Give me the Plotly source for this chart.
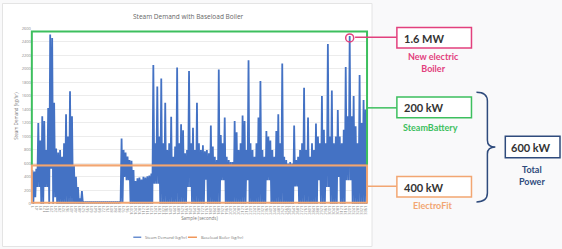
import plotly.graph_objects as go

# ---------------- data ----------------
# upper / lower envelope of the dense steam-demand trace, one pair per ~2 px column
steam_hi = [500, 480, 520, 1200, 940, 1300, 1230, 800, 1420, 2510, 2460, 1500, 820, 760, 800, 700,
            900, 1330, 1000, 1670, 1300, 560, 400, 250, 80,
            190,
            25, 25, 25, 25, 25, 25, 25, 25, 25, 25, 25, 25, 25, 25, 25, 25, 25, 25, 25,
            970, 800, 760, 700, 650, 640, 500, 340,
            380, 390, 360, 400, 390, 410, 420, 450,
            2060, 900, 1740, 1000, 1860, 900, 1500, 800, 900, 1290, 700, 850, 2020, 900, 1180, 1090,
            750, 800, 1970, 900, 1130, 800, 1500, 900,
            800, 870, 780, 800, 750, 1160, 850, 700, 650, 1990, 1020, 900, 1280, 700, 650,
            620, 620, 1230, 1060, 800, 900, 1310, 1230, 800, 2130, 900, 800, 700, 900, 1280,
            1820, 800, 700, 1080, 1000, 940, 800, 700, 1080, 1330, 900, 2080, 700, 650, 600,
            620, 600, 1160, 650, 700, 800, 900, 1720, 800, 1280, 700, 900, 800, 1190, 1000,
            900, 1600, 1100, 900, 2370, 1000, 1680, 900, 1000, 1390, 1000, 900, 1100, 2030, 1300,
            2490, 1300, 1600, 1150, 900, 1910, 1200, 1540, 1400]
steam_lo = [0, 100, 250, 250, 0, 0, 250, 250, 0, 520, 0, 100, 0, 0, 0, 0,
            0, 0, 0, 0, 0, 0, 0, 0, 0,
            0,
            15, 15, 15, 15, 15, 15, 15, 15, 15, 15, 15, 15, 15, 15, 15, 15, 15, 15, 15,
            20, 400, 350, 350, 0, 0, 0, 0,
            0, 0, 0, 0, 0, 0, 0, 0,
            300, 300, 300, 0, 0, 0, 0, 0, 0, 0, 0, 0, 0, 0, 0, 0,
            0, 250, 250, 0, 0, 0, 0, 0,
            0, 0, 360, 0, 0, 0, 0, 0, 0, 0, 350, 350, 0, 0, 0,
            0, 0, 0, 0, 0, 0, 0, 0, 350, 0, 0, 0, 0, 0, 0,
            0, 0, 0, 350, 350, 0, 0, 0, 0, 0, 0, 0, 0, 0, 0,
            0, 0, 260, 260, 0, 0, 0, 0, 0, 0, 0, 0, 0, 0, 350,
            0, 0, 0, 250, 250, 0, 0, 0, 0, 400, 0, 0, 0, 350, 350,
            350, 0, 0, 0, 0, 0, 0, 0, 0]
baseload_kg_hr = 570

steam_demand = [v for pair in zip(steam_hi, steam_lo) for v in pair]
n = len(steam_demand)
sample_seconds = [1 + 10 * i for i in range(n)]
baseload = [baseload_kg_hr] * n

y_ticks = [0, 200, 400, 600, 800, 1000, 1200, 1400, 1600, 1800, 2000, 2200, 2400, 2600]

callouts = ["1.6 MW", "200 kW", "400 kW", "600 kW"]
callout_names = ["New electric<br>Boiler", "SteamBattery", "ElectroFit", "Total<br>Power"]

# ---------------- styling helpers ----------------
W, H = 562, 249
def X(x):
    return x / W
def Y(y):
    return 1 - y / H

BLUE = "#4472c4"
ORANGE_LINE = "#ed7d31"
ORANGE_BOX = "#f2a672"
GREEN = "#3dbf5e"
PINK = "#e2407d"
NAVY = "#2f4b7c"
DARK = "#333333"
FONT = "Lato"

fig = go.Figure()
fig.add_trace(go.Scatter(x=sample_seconds, y=steam_demand, mode="lines",
                         line=dict(color=BLUE, width=1.8, simplify=False), name="Steam Demand (kg/hr)",
                         showlegend=False, hoverinfo="skip"))
fig.add_trace(go.Scatter(x=sample_seconds, y=baseload, mode="lines",
                         line=dict(color=ORANGE_LINE, width=1.2), name="Baseload Boiler (kg/hr)",
                         showlegend=False, hoverinfo="skip"))

def P(x, y):
    return f"{X(x):.5f},{Y(y):.5f}"

shapes = []
# chart area frame
shapes.append(dict(type="rect", xref="paper", yref="paper", x0=X(0.5), x1=X(372), y0=Y(248.5), y1=Y(0.5),
                   line=dict(color="#e4e4e4", width=1), fillcolor="white", layer="below"))
# green open box (sides + top) above the baseload line
shapes.append(dict(type="path", xref="paper", yref="paper",
                   path=f"M {P(30,165.5)} L {P(30,29)} L {P(367,29)} L {P(367,165.5)}",
                   line=dict(color=GREEN, width=2)))
# orange box around the baseload band
shapes.append(dict(type="rect", xref="x domain", yref="y", x0=0, x1=1, y0=15, y1=baseload_kg_hr,
                   line=dict(color=ORANGE_BOX, width=2)))
# pink circle at the late peak
half = n // 2
pk = max(range(half, n), key=lambda i: steam_demand[i])
shapes.append(dict(type="circle", xref="x", yref="y", xsizemode="pixel", ysizemode="pixel",
                   xanchor=sample_seconds[pk], yanchor=steam_demand[pk] - 30,
                   x0=-4, x1=4, y0=-4, y1=4, line=dict(color=PINK, width=1.5)))
# connectors
shapes.append(dict(type="line", xref="paper", yref="paper", x0=X(355), x1=X(397), y0=Y(35), y1=Y(35),
                   line=dict(color=PINK, width=1.5)))
shapes.append(dict(type="line", xref="paper", yref="paper", x0=X(367), x1=X(397), y0=Y(107), y1=Y(107),
                   line=dict(color=GREEN, width=1.5)))
shapes.append(dict(type="line", xref="paper", yref="paper", x0=X(367), x1=X(397), y0=Y(187), y1=Y(187),
                   line=dict(color=ORANGE_BOX, width=1.5)))
# callout boxes
boxes = [(397, 472, 25, 46, PINK), (397, 472, 96, 117, GREEN), (397, 472, 177, 198, ORANGE_BOX),
         (506, 561, 136, 158, NAVY)]
for x0, x1, y0, y1, c in boxes:
    shapes.append(dict(type="rect", xref="paper", yref="paper", x0=X(x0), x1=X(x1), y0=Y(y1), y1=Y(y0),
                       line=dict(color=c, width=1.5), fillcolor="white"))
# brace
brace = (f"M {P(477,91)} Q {P(488,91)} {P(488,100)} L {P(488,140)} Q {P(488,147)} {P(496,147)} "
         f"Q {P(488,147)} {P(488,154)} L {P(488,194)} Q {P(488,203)} {P(477,203)}")
shapes.append(dict(type="path", xref="paper", yref="paper", path=brace, line=dict(color=NAVY, width=1.5)))
# manual legend lines
shapes.append(dict(type="line", xref="paper", yref="paper", x0=X(132), x1=X(140), y0=Y(239), y1=Y(239),
                   line=dict(color=BLUE, width=1.2)))
shapes.append(dict(type="line", xref="paper", yref="paper", x0=X(187), x1=X(196), y0=Y(239), y1=Y(239),
                   line=dict(color=ORANGE_LINE, width=1.2)))

ann = []
def txt(x, y, s, size, color, anchor="center", bold=False, family=FONT):
    ann.append(dict(x=X(x), y=Y(y), xref="paper", yref="paper", text=(f"<b>{s}</b>" if bold else s),
                    showarrow=False, xanchor=anchor, yanchor="middle",
                    font=dict(size=size, color=color, family=family)))

txt(188, 14, "Steam Demand with Baseload Boiler", 6.5, "#666666", family="Open Sans")
txt(142, 239, "Steam Demand (kg/hr)", 4, "#777777", anchor="left", family="Open Sans")
txt(198, 239, "Baseload Boiler (kg/hr)", 4, "#777777", anchor="left", family="Open Sans")

txt(402, 36, callouts[0], 11, DARK, anchor="left", bold=True)
txt(402, 107, callouts[1], 11, DARK, anchor="left", bold=True)
txt(402, 188, callouts[2], 11, DARK, anchor="left", bold=True)
txt(510, 147.5, callouts[3], 11, DARK, anchor="left", bold=True)
ann.append(dict(x=X(434), y=Y(61), xref="paper", yref="paper", text=f"<b>{callout_names[0]}</b>",
                showarrow=False, xanchor="center", yanchor="middle", align="center",
                font=dict(size=9, color=PINK, family=FONT)))
txt(431, 127, callout_names[1], 9, GREEN, bold=True)
txt(433, 207, callout_names[2], 9, ORANGE_BOX, bold=True)
ann.append(dict(x=X(533), y=Y(176), xref="paper", yref="paper", text=f"<b>{callout_names[3]}</b>",
                showarrow=False, xanchor="center", yanchor="middle", align="center",
                font=dict(size=9, color=NAVY, family=FONT)))

fig.update_layout(
    width=W, height=H, margin=dict(l=0, r=0, t=0, b=0),
    paper_bgcolor="#f9f9fa", plot_bgcolor="white",
    shapes=shapes, annotations=ann, showlegend=False,
    xaxis=dict(domain=[X(30), X(367)], range=[-4, sample_seconds[-1] + 5], tickmode="linear",
               tick0=1, dtick=40, tickangle=-90, tickfont=dict(size=4, color="#888888", family="Open Sans"),
               showgrid=False, zeroline=False, showline=False, ticks="",
               title=dict(text="Sample (seconds)", font=dict(size=4.5, color="#777777", family="Open Sans"),
                          standoff=2)),
    yaxis=dict(domain=[Y(205), Y(26)], range=[0, 2600], tickvals=y_ticks,
               tickfont=dict(size=4, color="#888888", family="Open Sans"),
               showgrid=True, gridcolor="#ececec", gridwidth=0.6, zeroline=False, showline=False,
               ticks="", title=dict(text="Steam Demand (kg/hr)",
                                    font=dict(size=4.5, color="#777777", family="Open Sans"), standoff=3)),
)

fig.write_html("out.html", config={"displayModeBar": False},
               post_script="document.body.style.margin='0';document.body.style.overflow='hidden';")
